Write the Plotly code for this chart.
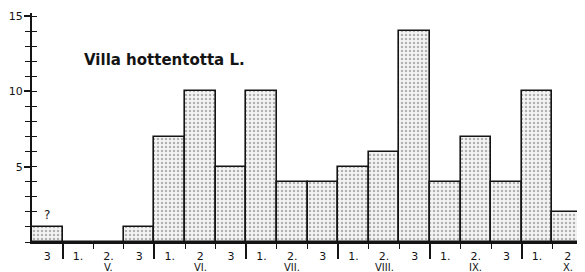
import plotly.graph_objects as go

# ---- data ----
decades = ["3", "1.", "2.", "3", "1.", "2", "3", "1.", "2.", "3",
           "1.", "2.", "3", "1.", "2.", "3", "1.", "2"]
counts = [1, 0, 0, 1, 7, 10, 5, 10, 4, 4, 5, 6, 14, 4, 7, 4, 10, 2]
months = ["V.", "VI.", "VII.", "VIII.", "IX.", "X."]
month_centre = [2, 5, 8, 11, 14, 17]          # index of middle decade of each month
title_text = "Villa hottentotta L."

idx = list(range(len(counts)))
month_bounds = [c - 1.5 for c in month_centre]
decade_bounds = [i + 0.5 for i in idx[:-1] if (i + 0.5) not in month_bounds]

FONT = "DejaVu Sans"
INK = "#141414"

fig = go.Figure()
fig.add_trace(go.Bar(
    x=idx, y=counts, width=1,
    marker=dict(
        color="#f4f4f4",
        line=dict(color=INK, width=1.6),
        pattern=dict(shape=".", fgcolor="#6e6e6e", bgcolor="#f4f4f4",
                     size=4, solidity=0.3),
    ),
    hoverinfo="skip", showlegend=False,
))
# invisible helper trace for the overlay axes
fig.add_trace(go.Scatter(x=[0], y=[0], xaxis="x2", yaxis="y2",
                         mode="markers", marker=dict(opacity=0),
                         hoverinfo="skip", showlegend=False))

# the page body has an 8px default margin, so the figure is 8px smaller
fig.update_layout(
    width=577, height=264,
    margin=dict(l=24, r=2, t=5, b=30),
    paper_bgcolor="white", plot_bgcolor="white",
    font=dict(family=FONT, color=INK, size=11),
    xaxis=dict(
        range=[-0.5, 17.5], showgrid=False, zeroline=False, automargin=False,
        showline=True, linecolor=INK, linewidth=2.2,
        tickvals=month_bounds, ticks="outside", ticklen=15,
        tickwidth=1.5, tickcolor=INK, showticklabels=False,
        minor=dict(tickvals=decade_bounds, ticks="outside", ticklen=5,
                   tickwidth=1.3, tickcolor=INK),
    ),
    xaxis2=dict(
        range=[-0.5, 17.5], overlaying="x", anchor="y", automargin=False,
        showgrid=False, zeroline=False, showline=False,
        tickvals=idx, ticktext=decades, ticks="",
        tickfont=dict(family=FONT, size=11, color=INK),
        ticklabelstandoff=6,
    ),
    yaxis=dict(
        range=[0, 15.2], showgrid=False, zeroline=False, automargin=False,
        showline=True, linecolor=INK, linewidth=2,
        tickvals=[5, 10, 15], ticks="outside", ticklen=6,
        tickwidth=1.5, tickcolor=INK, ticklabelstandoff=-1,
        tickfont=dict(family=FONT, size=11, color=INK),
        minor=dict(dtick=1, ticks="outside", ticklen=5,
                   tickwidth=1.3, tickcolor=INK),
    ),
    yaxis2=dict(
        range=[0, 15.2], overlaying="y", anchor="x", automargin=False,
        showgrid=False, zeroline=False, showline=False,
        tickvals=list(range(1, 16)), ticks="inside", ticklen=5,
        tickwidth=1.3, tickcolor=INK, showticklabels=False,
    ),
    bargap=0,
)

for m, c in zip(months, month_centre):
    fig.add_annotation(x=c, xref="x", y=-0.113, yref="paper",
                       text=m, showarrow=False, yanchor="middle",
                       font=dict(family=FONT, size=10, color=INK))

fig.add_annotation(x=0, xref="x", y=counts[0], yref="y", text="?",
                   showarrow=False, yanchor="bottom", yshift=3,
                   font=dict(family=FONT, size=12, color=INK))

fig.add_annotation(x=0.09, xref="paper", y=0.795, yref="paper",
                   text="<b>" + title_text + "</b>", showarrow=False,
                   xanchor="left", yanchor="middle",
                   font=dict(family=FONT, size=15, color=INK))

fig.write_html("out.html")
